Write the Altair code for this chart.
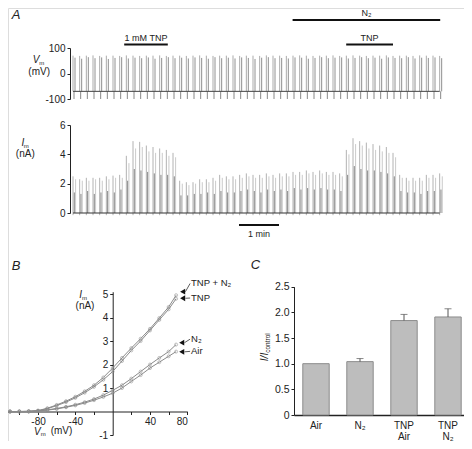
import altair as alt
import pandas as pd

# ---------------- Panel A: sweep-by-sweep ramp responses ----------------
SWEEP_MIN = 10 / 60.0          # one ramp every 10 s
vm_peak = [70, 69, 70, 71, 69, 70, 70, 69, 71, 70, 69, 70, 70, 71, 69, 70,
           70, 69, 70, 71, 70, 69, 70, 70, 71, 69, 70, 70, 69, 71, 70, 70,
           69, 70, 71, 70, 69, 70, 70, 71, 69, 70, 71, 70, 69, 70, 70, 71,
           69, 70, 70, 69, 71, 70, 70, 69]
vm_peak2 = [62, 58, 64, 60, 63, 57, 61, 64, 59, 62, 60, 63, 58, 61, 64, 60,
            62, 59, 63, 61, 58, 64, 60, 62, 59, 63, 61, 57, 62, 64, 60, 61,
            59, 63, 62, 58, 61, 64, 60, 62, 63, 59, 61, 64, 60, 62, 58, 63,
            61, 60, 64, 59, 62, 61, 63, 60]
VM_HOLD = -70
VM_STEP = -100
im_peak = [2.5, 2.3, 2.4, 2.4, 2.4, 2.5, 2.55, 2.6,
           3.9, 4.9, 4.85, 4.6, 4.5, 4.4, 4.3, 4.1,
           2.2, 2.1, 2.1, 2.3, 2.3, 2.4, 2.6, 2.5, 2.5,
           2.6, 2.7, 2.6, 2.6, 2.7, 2.6, 2.7, 2.7, 2.8, 2.8, 2.9, 2.8, 2.9, 2.8, 2.8, 2.7,
           4.3, 5.1, 4.9, 4.8, 4.7, 4.6, 4.5, 4.1,
           2.6, 2.4, 2.4, 2.4, 2.6, 2.6, 2.7]
im_peak2 = [2.3, 2.2, 2.2, 2.3, 2.2, 2.3, 2.4, 2.4,
            3.4, 4.4, 4.5, 4.2, 4.1, 4.1, 3.9, 3.8,
            2.0, 1.9, 2.0, 2.1, 2.1, 2.2, 2.4, 2.3, 2.3,
            2.4, 2.5, 2.4, 2.4, 2.5, 2.4, 2.5, 2.5, 2.6, 2.6, 2.7, 2.6, 2.7, 2.6, 2.6, 2.5,
            4.0, 4.7, 4.6, 4.4, 4.3, 4.2, 4.1, 3.8,
            2.4, 2.2, 2.2, 2.2, 2.4, 2.4, 2.5]
im_mid = [1.4, 1.3, 1.5, 1.3, 1.4, 1.5, 1.4, 1.6,
          2.2, 3.0, 2.9, 2.8, 2.7, 2.6, 2.6, 2.5,
          1.2, 1.2, 1.3, 1.3, 1.4, 1.3, 1.5, 1.4, 1.4,
          1.5, 1.6, 1.5, 1.4, 1.6, 1.5, 1.6, 1.5, 1.7, 1.6, 1.7, 1.6, 1.7, 1.6, 1.6, 1.5,
          2.6, 3.2, 3.0, 2.9, 2.9, 2.8, 2.7, 2.5,
          1.5, 1.4, 1.4, 1.3, 1.5, 1.5, 1.6]
IM_FLOOR = -0.15
# application periods (min)
tnp_periods = [(1.28, 2.37, "1 mM TNP"), (6.83, 8.0, "TNP")]
n2_period = (5.49, 9.18, "N\u2082")
scale_bar = (4.15, 5.15, "1 min")

# ---------------- Panel B: I-V relations ----------------
iv_v = [-120, -110, -100, -90, -80, -70, -60, -50, -40, -30, -20, -10, 0, 10, 20, 30, 40, 50, 60, 68]
iv_tnp = [0, 0, 0, 0.01, 0.03, 0.12, 0.25, 0.4, 0.58, 0.8, 1.05, 1.35, 1.7, 2.15, 2.6, 3.0, 3.45, 3.9, 4.35, 4.8]
iv_tnp_n2 = [0, 0, 0, 0.01, 0.04, 0.14, 0.28, 0.44, 0.63, 0.86, 1.12, 1.45, 1.85, 2.28, 2.7, 3.1, 3.52, 3.98, 4.45, 4.95]
iv_air = [0, 0, 0, 0, 0.02, 0.06, 0.11, 0.18, 0.26, 0.36, 0.48, 0.62, 0.78, 1.0, 1.28, 1.55, 1.85, 2.1, 2.35, 2.55]
iv_n2 = [0, 0, 0, 0, 0.03, 0.07, 0.13, 0.2, 0.29, 0.4, 0.53, 0.7, 0.9, 1.12, 1.4, 1.7, 2.0, 2.28, 2.55, 2.85]
iv_labels = ["TNP + N\u2082", "TNP", "N\u2082", "Air"]
arrow_v = [75, 75, 74, 74]
arrow_i = [5.1, 4.82, 2.93, 2.54]
label_v = [84, 84, 84, 84]
label_i = [5.45, 4.83, 3.08, 2.56]

# ---------------- Panel C: normalised current ----------------
bar_cats = ["Air", "N\u2082", "TNP Air", "TNP N\u2082"]
bar_vals = [1.0, 1.04, 1.84, 1.91]
bar_err_hi = [None, 1.10, 1.96, 2.07]

FONT = "Liberation Sans"
INK = "#222222"
DUMMY = pd.DataFrame({"k": [0]})

sw = pd.DataFrame({
    "t": [i * SWEEP_MIN for i in range(len(vm_peak))],
    "vm_peak": vm_peak, "vm_peak2": vm_peak2,
    "im_peak": im_peak, "im_peak2": im_peak2, "im_mid": im_mid,
})
sw["hold"] = VM_HOLD
sw["step"] = VM_STEP
sw["floor"] = IM_FLOOR
sw["zero"] = 0.0
t_end = float(sw["t"].iloc[-1])
base = pd.DataFrame({"t0": [0.0], "t1": [t_end], "vm": [VM_HOLD], "im": [0.0]})

T_SC = alt.Scale(domain=[0, 10], range=[65, 465], nice=False, zero=False)
VM_SC = alt.Scale(domain=[-100, 100], range=[91, 40], nice=False, zero=False)
IM_SC = alt.Scale(domain=[0, 6], range=[205, 117], nice=False, zero=False)


def axis(orient, offset, values, **kw):
    opts = dict(orient=orient, offset=offset, values=values, title=None, grid=False,
                tickSize=3, labelPadding=2, labelFontSize=10, labelFont=FONT,
                labelColor=INK, domainColor=INK, tickColor=INK,
                labelExpr="'' + datum.value")
    opts.update(kw)
    return alt.Axis(**opts)


def txt(text, x, y, size=10, style="normal", align="center", angle=0, baseline="alphabetic"):
    return alt.Chart(DUMMY).mark_text(
        text=text, fontSize=size, fontStyle=style, align=align, baseline=baseline,
        angle=angle, color=INK, font=FONT
    ).encode(x=alt.value(x), y=alt.value(y))


tx = alt.X("t:Q", scale=T_SC, axis=None)
layers = []
# Vm trace
layers.append(alt.Chart(sw).mark_rule(color="#ababab", strokeWidth=1).encode(
    x=tx, y=alt.Y("hold:Q", scale=VM_SC, axis=axis("left", -62, [-100, 0, 100])),
    y2="vm_peak:Q"))
layers.append(alt.Chart(sw).mark_rule(color="#747474", strokeWidth=0.8, xOffset=2).encode(
    x=tx, y=alt.Y("hold:Q", scale=VM_SC, axis=None), y2="vm_peak2:Q"))
layers.append(alt.Chart(sw).mark_rule(color="#6a6a6a", strokeWidth=0.8, xOffset=1).encode(
    x=tx, y=alt.Y("step:Q", scale=VM_SC, axis=None), y2="hold:Q"))
layers.append(alt.Chart(base).mark_rule(color="#444444", strokeWidth=1).encode(
    x=alt.X("t0:Q", scale=T_SC, axis=None), x2="t1:Q",
    y=alt.Y("vm:Q", scale=VM_SC, axis=None)))
# Im trace
layers.append(alt.Chart(sw).mark_rule(color="#b2b2b2", strokeWidth=1).encode(
    x=tx, y=alt.Y("floor:Q", scale=IM_SC, axis=axis("left", -62, [0, 2, 4, 6])),
    y2="im_peak:Q"))
layers.append(alt.Chart(sw).mark_rule(color="#bdbdbd", strokeWidth=0.8, xOffset=2.6).encode(
    x=tx, y=alt.Y("zero:Q", scale=IM_SC, axis=None), y2="im_peak2:Q"))
layers.append(alt.Chart(sw).mark_rule(color="#6a6a6a", strokeWidth=0.8, xOffset=1.3).encode(
    x=tx, y=alt.Y("zero:Q", scale=IM_SC, axis=None), y2="im_mid:Q"))
layers.append(alt.Chart(base).mark_rule(color="#333333", strokeWidth=1).encode(
    x=alt.X("t0:Q", scale=T_SC, axis=None), x2="t1:Q",
    y=alt.Y("im:Q", scale=IM_SC, axis=None)))

# application bars and labels
def period_layers(periods, bar_y, text_y):
    df = pd.DataFrame(periods, columns=["s", "e", "label"])
    bar = alt.Chart(df).mark_rule(color="#111111", strokeWidth=2).encode(
        x=alt.X("s:Q", scale=T_SC, axis=None), x2="e:Q", y=alt.value(bar_y))
    lab = alt.Chart(df).transform_calculate(mid="(datum.s + datum.e) / 2").mark_text(
        fontSize=9, font=FONT, color=INK, baseline="alphabetic").encode(
        x=alt.X("mid:Q", scale=T_SC, axis=None), y=alt.value(text_y), text="label:N")
    return [bar, lab]

layers += period_layers(tnp_periods, 36.6, 33)
layers += period_layers([n2_period], 12, 7.5)
layers += period_layers([scale_bar], 217, 229)

# panel A titles
layers += [
    txt("A", 8, 11, size=13, style="italic"),
    txt("V", 28, 55.3, size=10, style="italic"),
    txt("m", 33.8, 57, size=6),
    txt("(mV)", 31.2, 67, size=10),
    txt("I", 15, 138, size=10, style="italic"),
    txt("m", 18.3, 140, size=6),
    txt("(nA)", 17.3, 148.5, size=10),
]

# ---------------- Panel B layers ----------------
iv = pd.DataFrame({
    "V": iv_v * 4,
    "I": iv_tnp + iv_tnp_n2 + iv_air + iv_n2,
    "cond": ["TNP"] * len(iv_v) + ["TNP+N2"] * len(iv_v) + ["Air"] * len(iv_v) + ["N2"] * len(iv_v),
})
BX_SC = alt.Scale(domain=[-120, 80], range=[-7.3, 179.3], nice=False, zero=False)
BY_SC = alt.Scale(domain=[-1, 5.1], range=[427, 283.7], nice=False, zero=False)
layers.append(alt.Chart(iv).mark_line(color="#8a8a8a", strokeWidth=1).encode(
    x=alt.X("V:Q", scale=BX_SC, axis=axis(
        "bottom", -29.5, [-100, -80, -60, -40, -20, 20, 40, 60, 80],
        labelExpr="datum.value % 40 == 0 ? '' + datum.value : ''", labelPadding=1.5)),
    y=alt.Y("I:Q", scale=BY_SC, axis=axis("left", -104.7, [-1, 1, 2, 3, 4, 5])),
    detail="cond:N"))
layers.append(alt.Chart(iv).mark_point(shape="circle", size=9, filled=False, color="#8a8a8a",
                                       strokeWidth=0.8).encode(
    x=alt.X("V:Q", scale=BX_SC, axis=None), y=alt.Y("I:Q", scale=BY_SC, axis=None)))
ann = pd.DataFrame({"label": iv_labels, "av": arrow_v, "ai": arrow_i, "lv": label_v, "li": label_i})
layers.append(alt.Chart(ann).transform_calculate(av2="datum.av + 3", lv2="datum.lv - 1").mark_rule(
    color="#333333", strokeWidth=0.8).encode(
    x=alt.X("av2:Q", scale=BX_SC, axis=None), x2="lv2:Q",
    y=alt.Y("ai:Q", scale=BY_SC, axis=None), y2="li:Q"))
layers.append(alt.Chart(ann).mark_point(shape="triangle-left", size=34, filled=True, color="#111111",
                                        opacity=1).encode(
    x=alt.X("av:Q", scale=BX_SC, axis=None), y=alt.Y("ai:Q", scale=BY_SC, axis=None)))
layers.append(alt.Chart(ann).mark_text(align="left", baseline="middle", fontSize=9.5, font=FONT,
                                       color=INK).encode(
    x=alt.X("lv:Q", scale=BX_SC, axis=None), y=alt.Y("li:Q", scale=BY_SC, axis=None), text="label:N"))
layers += [
    txt("B", 8, 262, size=13, style="italic"),
    txt("I", 72.7, 290, size=10, style="italic"),
    txt("m", 76.5, 291.5, size=6),
    txt("(nA)", 77, 300.5, size=10),
    txt("V", 29.3, 426.5, size=10, style="italic"),
    txt("m", 35.3, 428.3, size=6),
    txt("(mV)", 53.5, 426, size=10),
]

# ---------------- Panel C layers ----------------
bars = pd.DataFrame({"cond": bar_cats, "val": bar_vals, "hi": bar_err_hi})
CX_SC = alt.Scale(domain=bar_cats, range=[286, 462], paddingInner=0.4, paddingOuter=0.2)
CY_SC = alt.Scale(domain=[0, 2.5], range=[407, 278.7], nice=False, zero=False)
layers.append(alt.Chart(bars).mark_bar(color="#bdbdbd", stroke="#8c8c8c", strokeWidth=1).encode(
    x=alt.X("cond:N", scale=CX_SC, sort=None, axis=axis(
        "bottom", -26, bar_cats, ticks=False, domainWidth=1.5, labelPadding=5,
        labelLineHeight=11.5, labelAngle=0, labelExpr="split(datum.label, ' ')", labelFontSize=10)),
    y=alt.Y("val:Q", scale=CY_SC, axis=axis(
        "left", -286, [0, 0.5, 1, 1.5, 2, 2.5],
        labelExpr="datum.value == 0 ? '0' : format(datum.value, '.1f')", labelFontSize=10.5))))
errs = bars.dropna()
layers.append(alt.Chart(errs).mark_rule(color="#555555", strokeWidth=1).encode(
    x=alt.X("cond:N", scale=CX_SC, sort=None, axis=None),
    y=alt.Y("val:Q", scale=CY_SC, axis=None), y2="hi:Q"))
layers.append(alt.Chart(errs).mark_tick(orient="horizontal", color="#555555", size=7, thickness=1).encode(
    x=alt.X("cond:N", scale=CX_SC, sort=None, axis=None),
    y=alt.Y("hi:Q", scale=CY_SC, axis=None)))
layers += [
    txt("C", 247.5, 261.3, size=13, style="italic"),
    txt("I/I", 257, 349, size=10, style="italic", angle=270, baseline="middle"),
    txt("control", 259.5, 335, size=6.5, angle=270, baseline="middle"),
]

chart = alt.layer(*layers).resolve_scale(x="independent", y="independent").properties(
    width=456, height=433, padding=0, autosize=alt.AutoSizeParams(type="none"),
    background="white",
).configure_view(strokeWidth=0).configure(font=FONT)

chart.save("out.html", embed_options={"renderer": "svg", "actions": False})
